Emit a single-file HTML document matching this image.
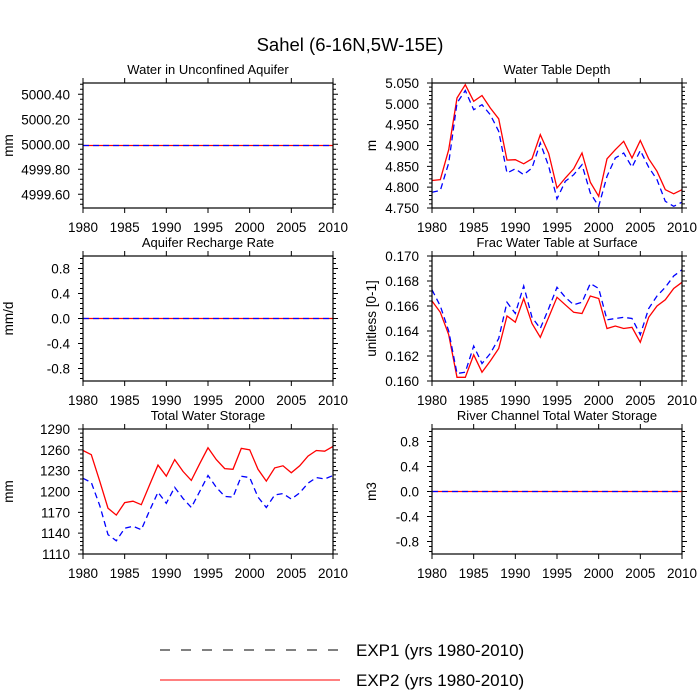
<!DOCTYPE html>
<html><head><meta charset="utf-8"><style>body{margin:0;background:#fff}svg{display:block;font-family:"Liberation Sans",sans-serif}</style></head>
<body>
<svg id="c" width="700" height="700"></svg>
<script>
const years=[];for(let y=1980;y<=2010;y++)years.push(y);
const wtdRed=[4.816,4.818,4.89,5.014,5.046,5.006,5.020,4.990,4.964,4.865,4.866,4.856,4.868,4.926,4.881,4.798,4.822,4.844,4.882,4.812,4.778,4.868,4.890,4.910,4.870,4.912,4.868,4.838,4.794,4.784,4.794];
const wtdBlue=[4.788,4.792,4.858,5.002,5.032,4.986,4.998,4.974,4.934,4.834,4.844,4.830,4.846,4.906,4.850,4.772,4.814,4.830,4.854,4.786,4.754,4.826,4.870,4.882,4.848,4.888,4.848,4.818,4.766,4.754,4.764];
const fracRed=[0.1664,0.1655,0.1637,0.1603,0.1603,0.1621,0.1607,0.1616,0.1626,0.1652,0.1647,0.1666,0.1646,0.1635,0.1651,0.1667,0.1661,0.1655,0.1654,0.1668,0.1666,0.1642,0.1644,0.1642,0.1643,0.1631,0.1651,0.1660,0.1665,0.1674,0.1679];
const fracBlue=[0.1673,0.1660,0.1640,0.1606,0.1607,0.1628,0.1614,0.1622,0.1634,0.1663,0.1654,0.1676,0.1651,0.1642,0.1658,0.1675,0.1667,0.1661,0.1663,0.1678,0.1674,0.1649,0.1650,0.1651,0.1650,0.1637,0.1658,0.1668,0.1675,0.1684,0.1689];
const twsRed=[1259,1253,1215,1176,1166,1184,1186,1181,1210,1238,1222,1246,1229,1216,1240,1263,1246,1233,1232,1262,1260,1232,1215,1234,1237,1227,1237,1251,1259,1258,1265];
const twsBlue=[1219,1213,1180,1138,1129,1147,1150,1145,1173,1199,1183,1206,1190,1177,1200,1223,1206,1193,1192,1222,1220,1192,1177,1195,1197,1189,1198,1212,1220,1218,1223];
const aqRed=years.map(()=>4999.99), aqBlue=years.map(()=>4999.99);
const zeroRed=years.map(()=>0), zeroBlue=years.map(()=>0);
const xTicks=[1980,1985,1990,1995,2000,2005,2010];
const panels=[
 {name:'water-in-unconfined-aquifer',title:'Water in Unconfined Aquifer',unit:'mm',col:0,row:0,min:4999.49,max:5000.49,ticks:[5000.4,5000.2,5000.0,4999.8,4999.6],dec:2,minor:0.04,red:aqRed,blue:aqBlue},
 {name:'water-table-depth',title:'Water Table Depth',unit:'m',col:1,row:0,min:4.75,max:5.05,ticks:[5.05,5.0,4.95,4.9,4.85,4.8,4.75],dec:3,minor:0.01,red:wtdRed,blue:wtdBlue},
 {name:'aquifer-recharge-rate',title:'Aquifer Recharge Rate',unit:'mm/d',col:0,row:1,min:-1,max:1,ticks:[0.8,0.4,0,-0.4,-0.8],dec:1,minor:0.08,red:zeroRed,blue:zeroBlue},
 {name:'frac-water-table',title:'Frac Water Table at Surface',unit:'unitless [0-1]',col:1,row:1,min:0.16,max:0.17,ticks:[0.17,0.168,0.166,0.164,0.162,0.16],dec:3,minor:0.0004,red:fracRed,blue:fracBlue},
 {name:'total-water-storage',title:'Total Water Storage',unit:'mm',col:0,row:2,min:1110,max:1290,ticks:[1290,1260,1230,1200,1170,1140,1110],dec:0,minor:6,red:twsRed,blue:twsBlue},
 {name:'river-channel-storage',title:'River Channel Total Water Storage',unit:'m3',col:1,row:2,min:-1,max:1,ticks:[0.8,0.4,0,-0.4,-0.8],dec:1,minor:0.08,red:zeroRed,blue:zeroBlue}
];
const NS='http://www.w3.org/2000/svg',svg=document.getElementById('c');
function mk(t,a,p){const e=document.createElementNS(NS,t);for(const k in a)e.setAttribute(k,a[k]);(p||svg).appendChild(e);return e;}
const t=mk('text',{x:350,y:51,'text-anchor':'middle','font-size':18.5});t.textContent='Sahel (6-16N,5W-15E)';


panels.forEach(p=>{
 const L=p.col?432:83,R=L+250,T=83+p.row*173,B=T+125;
 const g=mk('g',{});
 
 
 const xs=y=>L+(y-1980)/30*(R-L), ys=v=>B-(v-p.min)/(p.max-p.min)*(B-T);
 const tt=mk('text',{x:(L+R)/2,y:T-9,'text-anchor':'middle','font-size':13},g);tt.textContent=p.title;
 
 
 let d='';
 xTicks.forEach(y=>{const x=xs(y);d+=`M${x},${B}v5M${x},${T}v-5`;
  const l=mk('text',{x:x,y:B+24,'text-anchor':'middle','font-size':13.5},g);l.textContent=y;
  
  });
 for(let v=Math.ceil(p.min/p.minor-1e-6)*p.minor;v<=p.max+1e-9;v+=p.minor){const y=ys(v);d+=`M${L},${y}h-3M${R},${y}h3`;}
 p.ticks.forEach(v=>{const y=ys(v);d+=`M${L},${y}h-5M${R},${y}h5`;
  const l=mk('text',{x:L-13,y:y+5,'text-anchor':'end','font-size':13.5},g);l.textContent=v.toFixed(p.dec);
  
  });
 mk('path',{d:d,stroke:'#000','stroke-width':1,fill:'none'},g);
 const yl=mk('text',{x:0,y:0,'text-anchor':'middle','font-size':13.5,transform:`translate(${p.col?376:13},${(T+B)/2}) rotate(-90)`},g);yl.textContent=p.unit;
 
 
 const ln=arr=>arr.map((v,i)=>(i?'L':'M')+xs(years[i]).toFixed(1)+','+ys(v).toFixed(1)).join('');
 const r=mk('path',{d:ln(p.red),stroke:'#f00','stroke-width':1.3,fill:'none'},g);
 
 
 const b=mk('path',{d:ln(p.blue),stroke:'#00f','stroke-width':1.3,fill:'none','stroke-dasharray':'6,4'},g);
 
 
 mk('rect',{x:L,y:T,width:R-L,height:B-T,fill:'none',stroke:'#000','stroke-width':1.2},g);
});
[['EXP1 (yrs 1980-2010)',650,'#000','10,11'],['EXP2 (yrs 1980-2010)',680,'#f00','none']].forEach(e=>{
 const g=mk('g',{});
 
 
 mk('path',{d:`M160,${e[1]}H340`,stroke:e[2],'stroke-width':1,'stroke-dasharray':e[3]},g);
 const tx=mk('text',{x:356,y:e[1]+6,'font-size':17},g);tx.textContent=e[0];
});
</script>
</body></html>
